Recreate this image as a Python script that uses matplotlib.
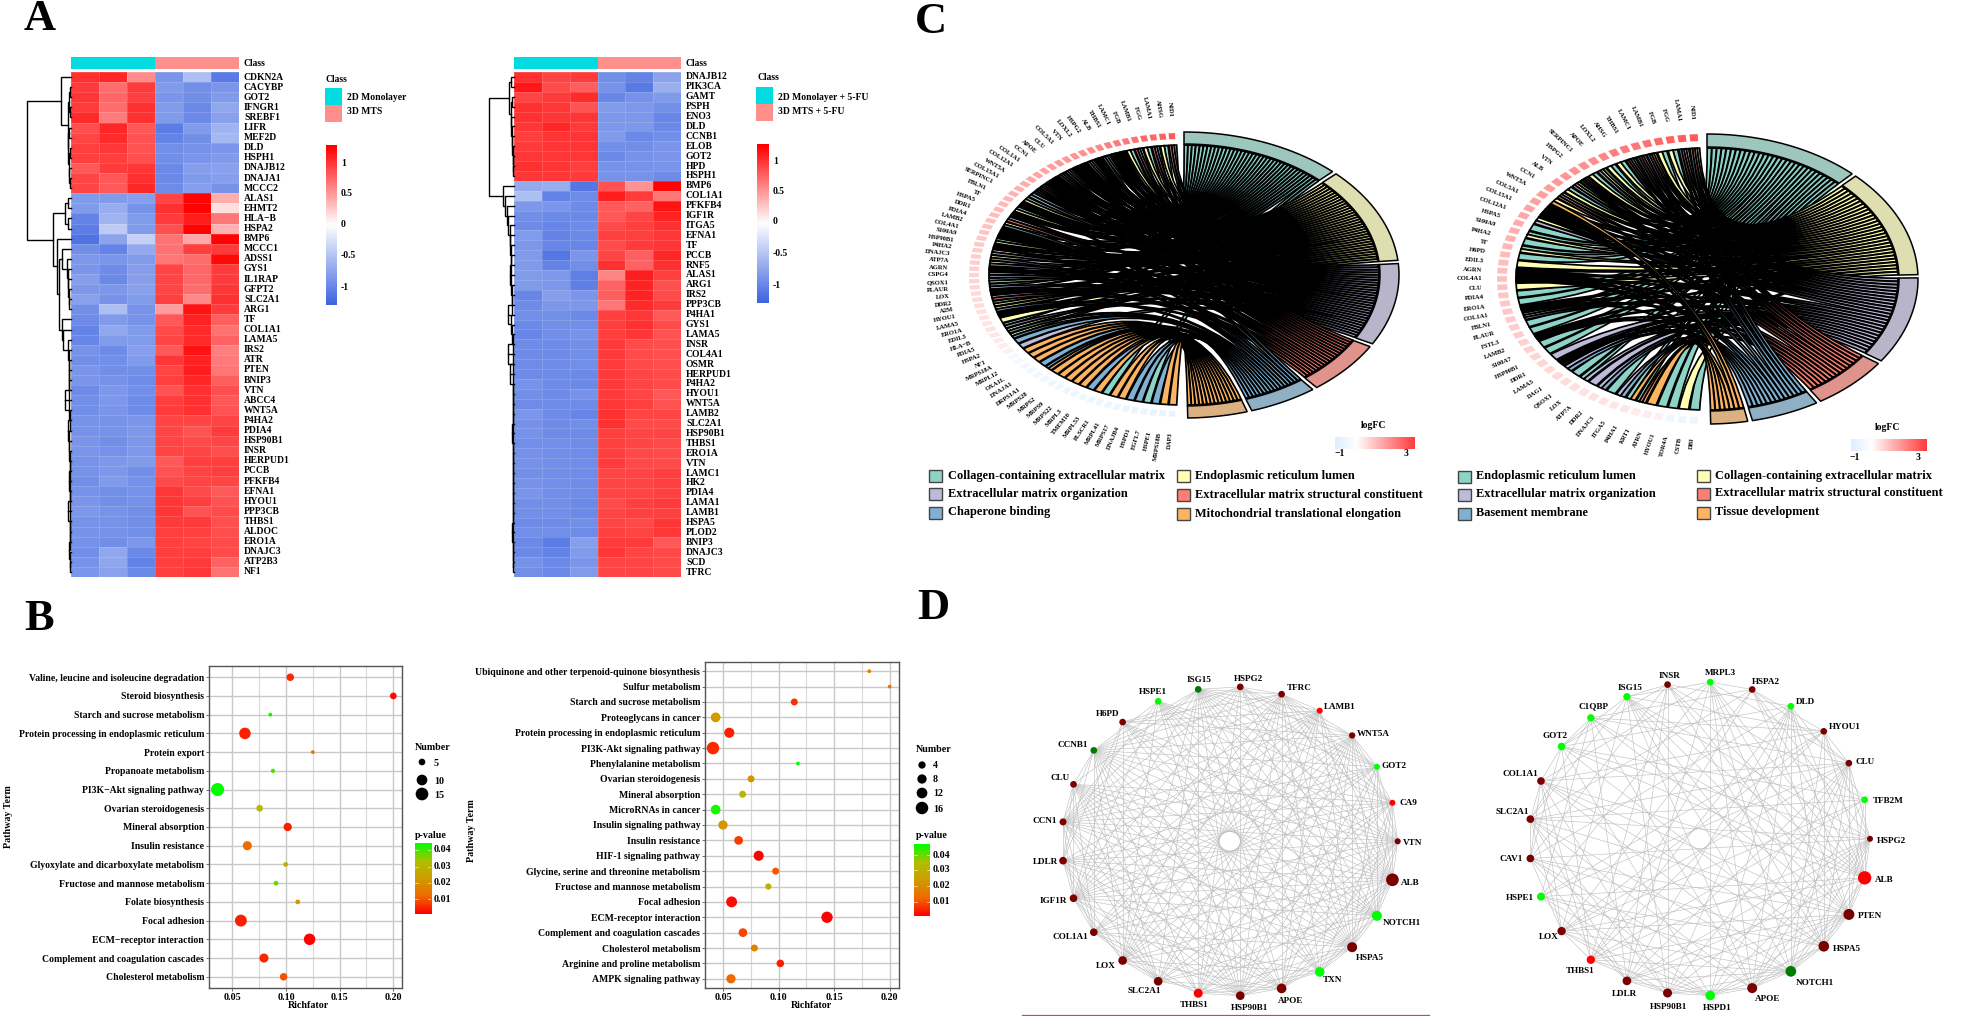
import numpy as np
import matplotlib
matplotlib.use('Agg')
import matplotlib.pyplot as plt
from matplotlib.colors import LinearSegmentedColormap
from matplotlib.collections import LineCollection
from matplotlib.patches import PathPatch, Polygon, Rectangle
from matplotlib.path import Path

plt.rcParams['font.family'] = ['Liberation Serif', 'DejaVu Serif']
plt.rcParams['font.weight'] = 'bold'

W, H = 1961, 1016

# ---------- heatmaps (panel A)
genes_a1 = ['CDKN2A', 'CACYBP', 'GOT2', 'IFNGR1', 'SREBF1', 'LIFR', 'MEF2D', 'DLD', 'HSPH1', 'DNAJB12',
            'DNAJA1', 'MCCC2', 'ALAS1', 'EHMT2', 'HLA\u2212B', 'HSPA2', 'BMP6', 'MCCC1', 'ADSS1', 'GYS1',
            'IL1RAP', 'GFPT2', 'SLC2A1', 'ARG1', 'TF', 'COL1A1', 'LAMA5', 'IRS2', 'ATR', 'PTEN',
            'BNIP3', 'VTN', 'ABCC4', 'WNT5A', 'P4HA2', 'PDIA4', 'HSP90B1', 'INSR', 'HERPUD1', 'PCCB',
            'PFKFB4', 'EFNA1', 'HYOU1', 'PPP3CB', 'THBS1', 'ALDOC', 'ERO1A', 'DNAJC3', 'ATP2B3', 'NF1']
vals_a1 = [
    [1.05, 1.1, .58, -.9, -.55, -1.12], [1.0, .75, 1.0, -.85, -.95, -.9], [1.02, .78, .98, -.9, -.95, -.85],
    [1.0, .75, 1.05, -.85, -1.0, -.75], [1.08, .68, 1.05, -.85, -1.0, -.8], [.9, 1.1, .85, -1.1, -.85, -.65],
    [.95, 1.08, .88, -1.05, -.95, -.6], [.98, 1.02, .88, -.95, -.92, -.9], [.98, .98, .9, -.95, -.9, -.85],
    [.85, 1.0, 1.02, -1.0, -.82, -.8], [.95, .85, 1.05, -1.0, -.85, -.82], [.95, .85, 1.1, -.98, -.82, -.92],
    [-.85, -.85, -.82, .95, 1.28, .42], [-.85, -.7, -.92, 1.05, 1.28, .17], [-1.05, -.65, -.85, 1.0, 1.15, .7],
    [-1.1, -.45, -.85, .9, 1.28, .4], [-1.18, -.78, -.4, .72, .45, 1.28], [-.95, -1.05, -.72, .72, .98, 1.0],
    [-.88, -.9, -.85, .7, .75, 1.25], [-.9, -.98, -.82, .95, .78, 1.0], [-.82, -1.0, -.82, .95, .78, 1.0],
    [-.88, -.88, -.8, .95, .75, 1.02], [-.8, -.92, -.85, .98, .6, 1.05], [-.95, -.55, -.92, .5, 1.2, 1.0],
    [-.98, -.85, -.92, .85, 1.12, .82], [-1.05, -.75, -.85, .92, 1.08, .72], [-1.02, -.85, -.85, .95, 1.08, .8],
    [-.92, -.98, -.82, .85, 1.2, .65], [-.95, -.95, -.85, 1.02, 1.12, .68], [-.9, -.95, -.95, .95, 1.15, .7],
    [-.9, -.92, -.98, .98, 1.1, .82], [-.98, -.88, -.95, .88, 1.05, .9], [-.95, -.88, -.98, .98, 1.05, .85],
    [-.95, -.9, -.98, 1.0, 1.05, .88], [-.92, -.92, -.9, .95, .95, .95], [-.92, -.92, -.88, .95, .88, 1.0],
    [-.9, -.95, -.88, .95, .92, .95], [-.9, -.93, -.88, .95, .95, .9], [-.92, -.88, -.85, .85, .98, .98],
    [-.92, -.88, -.95, .88, .95, .98], [-.95, -.85, -.93, .92, .95, .95], [-.92, -.95, -.93, 1.02, .92, .85],
    [-.9, -.95, -.93, 1.02, .98, .88], [-.88, -.92, -.95, 1.02, .88, .92], [-.92, -.92, -.95, 1.0, 1.0, .9],
    [-.92, -.92, -.95, .98, .98, .9], [-.93, -.95, -.88, .98, .95, .92], [-.95, -.75, -1.0, .98, .98, .92],
    [-.92, -.75, -1.05, .98, 1.0, .8], [-.9, -.8, -1.0, .98, 1.02, .72]]

genes_a2 = ['DNAJB12', 'PIK3CA', 'GAMT', 'PSPH', 'ENO3', 'DLD', 'CCNB1', 'ELOB', 'GOT2', 'HPD', 'HSPH1',
            'BMP6', 'COL1A1', 'PFKFB4', 'IGF1R', 'ITGA5', 'EFNA1', 'TF', 'PCCB', 'RNF5', 'ALAS1', 'ARG1',
            'IRS2', 'PPP3CB', 'P4HA1', 'GYS1', 'LAMA5', 'INSR', 'COL4A1', 'OSMR', 'HERPUD1', 'P4HA2',
            'HYOU1', 'WNT5A', 'LAMB2', 'SLC2A1', 'HSP90B1', 'THBS1', 'ERO1A', 'VTN', 'LAMC1', 'HK2',
            'PDIA4', 'LAMA1', 'LAMB1', 'HSPA5', 'PLOD2', 'BNIP3', 'DNAJC3', 'SCD', 'TFRC']
vals_a2 = [
    [1.05, .95, 1.0, -.95, -1.05, -.78], [1.18, .92, .82, -.92, -1.12, -.68], [.95, 1.0, 1.08, -1.02, -.92, -.85],
    [1.05, 1.02, .88, -.85, -.88, -.95], [1.05, 1.02, 1.03, -.88, -.88, -1.02], [1.02, 1.1, 1.0, -.88, -.88, -1.0],
    [.98, 1.03, 1.03, -.85, -1.0, -.95], [1.0, 1.03, 1.03, -.95, -.95, -.9], [1.02, 1.02, 1.02, -1.0, -.92, -.9],
    [1.05, 1.03, .98, -.92, -.92, -.9], [1.02, 1.02, 1.0, -.92, -.92, -.98], [-.72, -.7, -1.15, .88, .55, 1.28],
    [-.55, -1.05, -.98, 1.15, 1.0, .7], [-.88, -.9, -.98, .85, .8, 1.2], [-.95, -1.0, -1.0, .85, .95, 1.12],
    [-.98, -1.02, -.98, .92, .98, 1.05], [-.85, -1.05, -1.0, .98, .98, 1.02], [-.88, -1.02, -1.02, .92, 1.0, 1.03],
    [-.85, -1.15, -.9, .95, .82, 1.1], [-.85, -1.05, -.95, 1.05, .8, 1.05], [-.85, -.88, -1.08, .62, 1.15, .98],
    [-.85, -.88, -1.08, .8, 1.12, .9], [-1.02, -.82, -.9, .82, 1.12, .92], [-.98, -.88, -.88, .7, 1.08, 1.0],
    [-.95, -.95, -1.0, .98, 1.02, .85], [-1.0, -.95, -.95, .98, 1.05, .92], [-1.02, -.95, -.92, .98, 1.02, .88],
    [-.98, -.98, -.95, 1.0, .92, .9], [-.98, -.98, -.95, 1.0, .92, .9], [-.98, -.98, -.95, 1.0, .92, .9],
    [-.98, -.98, -1.0, 1.0, .95, .92], [-.92, -.98, -1.0, 1.0, .95, .92], [-.95, -.98, -.92, 1.0, .95, .85],
    [-.98, -.98, -.98, 1.02, .98, .88], [-.9, -.98, -1.03, 1.05, .95, .95], [-.93, -.98, -.95, 1.05, .92, .92],
    [-.92, -.98, -.98, .98, .95, .95], [-.96, -.96, -.98, .98, .95, .92], [-.93, -.96, -.97, .98, .93, .92],
    [-.93, -.96, -.97, 1.0, .93, .92], [-.95, -.95, -.97, .95, .95, .98], [-.92, -.96, -.97, .95, .95, .98],
    [-.9, -.96, -.97, .95, .95, .97], [-.96, -.96, -1.0, .92, .97, 1.0], [-.96, -.96, -1.0, .95, .97, .97],
    [-.98, -.98, -.95, .95, .93, 1.02], [-.96, -.96, -.98, .97, .95, 1.02], [-1.0, -1.1, -.82, 1.0, 1.0, .85],
    [-1.0, -1.05, -.85, 1.02, .95, .93], [-.92, -1.0, -.9, .95, .95, .92], [-.95, -1.0, -.85, .95, .95, .92]]

scale_ticks = [1, 0.5, 0, -0.5, -1]

# ---------- bubble plots (panel B)
terms_b1 = ['Valine, leucine and isoleucine degradation', 'Steroid biosynthesis', 'Starch and sucrose metabolism',
            'Protein processing in endoplasmic reticulum', 'Protein export', 'Propanoate metabolism',
            'PI3K\u2212Akt signaling pathway', 'Ovarian steroidogenesis', 'Mineral absorption', 'Insulin resistance',
            'Glyoxylate and dicarboxylate metabolism', 'Fructose and mannose metabolism', 'Folate biosynthesis',
            'Focal adhesion', 'ECM\u2212receptor interaction', 'Complement and coagulation cascades',
            'Cholesterol metabolism']
rich_b1 = [.104, .20, .0854, .0618, .125, .0879, .0363, .0755, .1016, .064, .0997, .0907, .111, .058, .122, .0795, .0978]
num_b1 = [6, 5, 2, 12, 2, 2.5, 16, 5, 7, 8, 3, 3, 3, 13, 12, 8, 6]
pval_b1 = [.005, .002, .044, .004, .014, .04, .044, .032, .004, .012, .028, .038, .022, .004, .001, .005, .009]

terms_b2 = ['Ubiquinone and other terpenoid-quinone biosynthesis', 'Sulfur metabolism', 'Starch and sucrose metabolism',
            'Proteoglycans in cancer', 'Protein processing in endoplasmic reticulum', 'PI3K-Akt signaling pathway',
            'Phenylalanine metabolism', 'Ovarian steroidogenesis', 'Mineral absorption', 'MicroRNAs in cancer',
            'Insulin signaling pathway', 'Insulin resistance', 'HIF-1 signaling pathway',
            'Glycine, serine and threonine metabolism', 'Fructose and mannose metabolism', 'Focal adhesion',
            'ECM-receptor interaction', 'Complement and coagulation cascades', 'Cholesterol metabolism',
            'Arginine and proline metabolism', 'AMPK signaling pathway']
rich_b2 = [.1816, .20, .114, .0431, .0554, .0407, .1173, .075, .0674, .0431, .0497, .0638, .0819, .0972, .0906, .0575,
           .1435, .0677, .078, .1014, .0569]
num_b2 = [2, 2, 4, 9, 10, 16, 2, 4, 4, 9, 8, 7, 10, 4, 3.5, 12, 13, 7, 4, 5, 8]
pval_b2 = [.016, .014, .006, .022, .004, .005, .044, .021, .03, .043, .021, .007, .001, .01, .029, .002, .001, .008,
           .017, .004, .012]

# ---------- chord diagrams (panel C), letters a-f are the six terms of each legend
terms_c1 = ['Collagen-containing extracellular matrix', 'Endoplasmic reticulum lumen',
            'Extracellular matrix organization', 'Extracellular matrix structural constituent',
            'Chaperone binding', 'Mitochondrial translational elongation']
genes_c1 = ['NID1', 'AHSG', 'LAMA1', 'FGG', 'LAMB1', 'FGB', 'LAMC1', 'THBS1', 'ALB', 'HSPG2', 'LOXL2', 'VTN', 'COL5A1',
            'CLU', 'APOE', 'CCN1', 'COL1A1', 'COL12A1', 'WNT5A', 'COL15A1', 'SERPINC1', 'FBLN1', 'TF', 'HSPA5', 'DDR1',
            'PDIA4', 'LAMB2', 'COL4A1', 'S100A9', 'HSP90B1', 'P4HA2', 'DNAJC3', 'ATP7A', 'AGRN', 'CSPG4', 'QSOX1',
            'PLAUR', 'LOX', 'DDR2', 'A2M', 'HYOU1', 'LAMA5', 'ERO1A', 'EDIL3', 'HLA\u2212B', 'PDIA5', 'HSPA2', 'NF1',
            'MRPS18A', 'MRPL12', 'OXA1L', 'DNAJA1', 'DRPS1A1', 'MRPS28', 'MRPS2', 'MRPS9', 'MRPS22', 'MRPL3', 'TMEM10',
            'MRPL53', 'PLSCR1', 'MRPL41', 'MRPS17', 'DNAJB4', 'HSPD1', 'EGFL7', 'HSPE1', 'MRPS18B', 'DAP3']
member_c1 = ['acd', 'ab', 'acd', 'ab', 'acd', 'ab', 'abcd', 'abcd', 'abe', 'abcd', 'abc', 'abcd', 'abcd', 'abe', 'abc',
             'abcd', 'abcd', 'acd', 'abc', 'ac', 'ab', 'abcd', 'ab', 'abe', 'cd', 'be', 'acd', 'abcd', 'ab', 'abe', 'bc',
             'be', 'bc', 'acd', 'ac', 'ab', 'ac', 'abcd', 'cd', 'ab', 'be', 'abcd', 'b', 'ac', 'be', 'be', 'e', 'c',
             'f', 'f', 'f', 'e', 'ef', 'f', 'f', 'f', 'f', 'f', 'e', 'f', 'a', 'f', 'f', 'e', 'e', 'a', 'e', 'f', 'f']
logfc_c1 = [3.0, 2.9, 2.75, 2.7, 2.6, 2.45, 2.4, 2.3, 2.2, 2.1, 2.0, 1.95, 1.9, 1.85, 1.8, 1.7, 1.65, 1.6, 1.5, 1.45,
            1.4, 1.35, 1.3, 1.25, 1.2, 1.15, 1.1, 1.05, 1.0, 1.0, .95, .9, .9, .85, .8, .8, .75, .7, .7, .65,
            .6, .55, .5, .5, .45, .4, .35, .3, -.4, -.45, -.5, -.55, -.55, -.6, -.6, -.6, -.65, -.65, -.65, -.7,
            -.7, -.7, -.7, -.75, -.75, -.75, -.8, -.8, -.85]

terms_c2 = ['Endoplasmic reticulum lumen', 'Collagen-containing extracellular matrix',
            'Extracellular matrix organization', 'Extracellular matrix structural constituent',
            'Basement membrane', 'Tissue development']
genes_c2 = ['NID1', 'LAMA1', 'FGG', 'FGB', 'LAMB1', 'LAMC1', 'THBS1', 'AHSG', 'LOXL2', 'APOE', 'SERPINC1', 'HSPG2', 'VTN',
            'ALB', 'CCN1', 'WNT5A', 'COL5A1', 'COL15A1', 'COL12A1', 'HSPA5', 'S100A9', 'P4HA2', 'TF', 'H6PD', 'EDIL3',
            'AGRN', 'COL4A1', 'CLU', 'PDIA4', 'ERO1A', 'COL1A1', 'FBLN1', 'PLAUR', 'FSTL3', 'LAMB2', 'S100A7', 'HSP90B1',
            'DDR1', 'LAMA5', 'DAG1', 'QSOX1', 'LOX', 'ATP7A', 'DDR2', 'DNAJC3', 'ITGA5', 'P4HA1', 'KRT1', 'ATRN',
            'HYOU1', 'TOR4A', 'CSTB', 'DBI']
member_c2 = ['bcde', 'bcde', 'ab', 'ab', 'bcde', 'bcde', 'abcd', 'ab', 'ab', 'abc', 'ab', 'bcde', 'abc', 'ab', 'bcd',
             'bf', 'abcdf', 'bcde', 'bc', 'a', 'ab', 'a', 'ab', 'a', 'b', 'bcde', 'bcdef', 'b', 'a', 'a', 'bcdf', 'abc',
             'a', 'a', 'bcde', 'a', 'a', 'c', 'bcde', 'ce', 'a', 'ac', 'c', 'ce', 'a', 'ce', 'af', 'adf', 'f', 'a', 'a',
             'b', 'a']
logfc_c2 = [3.0, 2.9, 2.8, 2.7, 2.55, 2.45, 2.4, 2.3, 2.2, 2.1, 2.0, 1.95, 1.9, 1.85, 1.8, 1.75, 1.7, 1.65, 1.6, 1.5,
            1.45, 1.4, 1.3, 1.25, 1.2, 1.15, 1.15, 1.1, 1.05, 1.0, 1.0, .95, .9, .9, .85, .85, .8, .75, .7, .7,
            .65, .6, .55, .55, .5, .45, .45, .4, .35, .3, -.55, -.6, -.65]

# ---------- networks (panel D), start at 3 o'clock and run counter clockwise
nodes_d1 = ['VTN', 'CA9', 'GOT2', 'WNT5A', 'LAMB1', 'TFRC', 'HSPG2', 'ISG15', 'HSPE1', 'H6PD', 'CCNB1', 'CLU', 'CCN1',
            'LDLR', 'IGF1R', 'COL1A1', 'LOX', 'SLC2A1', 'THBS1', 'HSP90B1', 'APOE', 'TXN', 'HSPA5', 'NOTCH1', 'ALB']
status_d1 = ['d', 'r', 'g', 'd', 'r', 'd', 'd', 'G', 'g', 'd', 'G', 'd', 'd', 'd', 'd', 'd', 'd', 'd', 'r', 'd', 'd',
             'g', 'd', 'g', 'd']
degree_d1 = [18, 18, 18, 19, 18, 20, 20, 20, 20, 20, 20, 20, 21, 23, 23, 23, 26, 26, 27, 26, 29, 29, 30, 30, 38]
links_d1 = [[1, 2, 3, 5, 7, 8, 9, 10, 11, 12], [2, 4, 5, 6, 7, 9, 10, 11, 12], [1, 3, 4, 5, 6, 8, 10, 11, 12],
            [2, 3, 4, 6, 7, 9, 11, 12], [1, 3, 5, 6, 8, 9, 10, 11, 12], [1, 2, 4, 5, 7, 9, 10, 11, 12],
            [1, 3, 4, 6, 8, 10, 12], [3, 4, 5, 7, 9, 10, 11, 12], [2, 4, 6, 8, 11, 12], [4, 5, 7, 10, 12],
            [1, 2, 3, 5, 6, 7, 8, 9, 10, 11, 12], [1, 2, 3, 4, 6, 7, 8, 9, 10, 11, 12], [1, 2, 3, 5, 6, 7, 8, 10, 11, 12],
            [1, 2, 3, 4, 6, 7, 9, 10, 11, 12], [1, 2, 3, 5, 6, 8, 9, 10, 11, 12], [2, 3, 4, 6, 7, 9, 10, 12],
            [1, 2, 4, 5, 7, 8, 10, 11, 12], [2, 3, 5, 6, 8, 9, 11, 12], [1, 2, 3, 4, 6, 7, 8, 10, 11, 12],
            [1, 2, 3, 5, 6, 8, 9, 10, 11, 12], [2, 3, 4, 5, 7, 8, 9, 10, 12], [1, 2, 3, 5, 7, 9, 11, 12],
            [1, 2, 3, 4, 5, 6, 7, 8, 9, 10, 11, 12], [1, 2, 3, 4, 5, 6, 8, 9, 10, 11, 12],
            [1, 2, 3, 4, 5, 6, 7, 8, 9, 10, 11, 12]]

nodes_d2 = ['HSPG2', 'TFB2M', 'CLU', 'HYOU1', 'DLD', 'HSPA2', 'MRPL3', 'INSR', 'ISG15', 'C1QBP', 'GOT2', 'COL1A1',
            'SLC2A1', 'CAV1', 'HSPE1', 'LOX', 'THBS1', 'LDLR', 'HSP90B1', 'HSPD1', 'APOE', 'NOTCH1', 'HSPA5', 'PTEN', 'ALB']
status_d2 = ['d', 'g', 'd', 'd', 'g', 'd', 'g', 'd', 'g', 'g', 'g', 'd', 'd', 'd', 'g', 'd', 'r', 'd', 'd', 'g', 'd',
             'G', 'd', 'd', 'r']
degree_d2 = [18, 20, 20, 20, 20, 20, 20, 20, 22, 22, 23, 23, 23, 23, 24, 25, 25, 26, 27, 29, 30, 32, 32, 33, 40]
links_d2 = [[2, 3, 5, 8, 10, 12], [3, 6, 9, 11], [1, 3, 4, 7, 9, 10, 12], [2, 5, 6, 8, 11, 12], [3, 6, 9, 12],
            [1, 4, 7, 10, 11], [2, 5, 8, 11], [1, 3, 6, 9, 10, 11], [2, 4, 7, 10, 12], [1, 3, 5, 8, 11],
            [1, 3, 6, 9, 12], [1, 2, 4, 5, 7, 10, 11, 12], [1, 3, 5, 6, 8, 9, 11], [2, 4, 6, 7, 9, 10, 12],
            [3, 5, 7, 8, 10], [1, 3, 4, 6, 8, 9, 11, 12], [2, 3, 5, 7, 9, 10, 12], [1, 2, 4, 6, 7, 8, 10, 12],
            [1, 2, 3, 5, 7, 9, 11], [1, 2, 3, 4, 6, 8, 10, 12], [1, 2, 3, 5, 6, 7, 9, 11], [1, 2, 3, 4, 6, 7, 8, 10, 12],
            [1, 2, 3, 5, 6, 7, 9, 10, 11], [1, 2, 3, 4, 6, 7, 8, 9, 10, 11], [1, 2, 3, 4, 5, 6, 7, 8, 9, 10, 11, 12]]

# label offsets from the node, measured on a 3x crop
offs_d1 = [(46, 6), (49, 0), (50, -3), (64, -3), (60, -11), (52, -20), (25, -25), (2, -27), (-16, -28), (-46, -25),
           (-62, -17), (-41, -18), (-56, -3), (-52, 3), (-61, 9), (-69, 14), (-50, 16), (-41, 28), (-13, 34), (28, 37),
           (26, 38), (38, 23), (53, 33), (75, 23), (53, 9)]
offs_d2 = [(64, 6), (70, 4), (48, -4), (63, -13), (44, -14), (42, -22), (31, -26), (5, -26), (9, -25), (9, -35),
           (-20, -32), (-62, -20), (-54, -20), (-57, 1), (-64, 4), (-39, 17), (-31, 34), (-8, 40), (3, 43), (22, 37),
           (47, 34), (71, 35), (70, 7), (62, 5), (59, 7)]

fig = plt.figure(figsize=(W / 100, H / 100), dpi=100)


def px_axes(x0, y0, x1, y1, **kw):
    return fig.add_axes([x0 / W, 1 - y1 / H, (x1 - x0) / W, (y1 - y0) / H], **kw)


canvas = px_axes(0, 0, W, H, zorder=5)
canvas.set_xlim(0, W)
canvas.set_ylim(H, 0)
canvas.axis('off')
canvas.patch.set_alpha(0)


def txt(x, y, s, size=6.95, ha='left', va='center', rot=0, **kw):
    canvas.text(x, y, s, fontsize=size, ha=ha, va=va, rotation=rot, color='black', rotation_mode='anchor', **kw)


for letter, lx, ly in [('A', 24, 30), ('B', 24, 630), ('C', 915, 33), ('D', 917, 619)]:
    txt(lx, ly, letter, size=32, va='baseline')

# ---------- panel A
heat_cmap = LinearSegmentedColormap.from_list('heat', ['#3F66E0', '#FFFFFF', '#FF0000'])
CYAN, SALMON = '#00DCE0', '#FF8F8A'


def comb(rows, heights):
    # right nested merge of rows, heights from the outermost node inward
    if len(rows) == 1:
        return rows[0]
    return (heights[0], rows[0], comb(rows[1:], heights[1:]))


def draw_tree(node, xr, y0, dy):
    # node is a leaf row or (height, left, right)
    if isinstance(node, int):
        return xr, y0 + (node + 0.5) * dy
    h, left, right = node
    x1, y1 = draw_tree(left, xr, y0, dy)
    x2, y2 = draw_tree(right, xr, y0, dy)
    x = xr - h
    canvas.plot([x1, x, x, x2], [y1, y1, y2, y2], color='black', lw=1.0, solid_joinstyle='miter')
    return x, (y1 + y2) / 2


tree_a1 = (44,
           (10.5, 0, (3.5, (2.5, (1.5, 1, 2), (1.5, 3, 4)),
                      (2.8, (1.8, 5, 6), (2.2, (1.2, 7, 8), (1.8, 9, (1.2, 10, 11)))))),
           (18, (6.5, (3.5, 12, 13), (3.5, 14, 15)),
            (14, 16, (12.5, comb([17, 18, 19, 20, 21, 22, 23], [9, 4.5, 3.5, 3, 2.5, 2]),
                      comb(list(range(24, 50)), [9, 8, 3, 2.5, 2, 2, 1.8, 6.5, 2.2, 1.5, 3.5, 2.5, 2, 1.5, 1.2, 2.2,
                                                 1.5, 1.5, 2.8, 1.2, 1, 1, 2, 1.2, 1])))))
tree_a2 = (25,
           (5.5, (3.5, 0, 1), (3.5, (2.2, 2, 3), comb([4, 5, 6, 7, 8, 9, 10], [3, 2.5, 2, 1.5, 1.2, 1]))),
           (11, 11, (9.5, 12, (7.5, 13, comb(list(range(14, 51)),
                                             [6, 4.5, 4, 3.5, 3, 4.5, 3.5, 2.5, 2, 6.5, 3, 2, 1.5, 6, 1.5, 4.5, 1.5, 1, 1,
                                              1, 1, 2, 1.2, 1, 1, 1, 1.5, 1, 1, 1.2, 1, 2.5, 1.5, 1, 1, 1])))))


def heatmap(x0, x1, y0, y1, values, genes, tree, top_y):
    ax = px_axes(x0, y0, x1, y1)
    ax.pcolormesh(np.array(values), cmap=heat_cmap, vmin=-1.3, vmax=1.3, edgecolors=(1, 1, 1, .15), linewidth=0.4)
    ax.set_xlim(0, 6)
    ax.set_ylim(len(genes), 0)
    ax.axis('off')
    dy = (y1 - y0) / len(genes)
    for i, g in enumerate(genes):
        txt(x1 + 5, y0 + (i + 0.5) * dy, g)
    draw_tree(tree, x0, y0, dy)
    mid = (x0 + x1) / 2
    canvas.add_patch(Rectangle((x0, top_y[0]), mid - x0, top_y[1] - top_y[0], color=CYAN, lw=0))
    canvas.add_patch(Rectangle((mid, top_y[0]), x1 - mid, top_y[1] - top_y[0], color=SALMON, lw=0))
    txt(x1 + 5, (top_y[0] + top_y[1]) / 2 + 1, 'Class')


def heat_scale(x0, x1, y0, y1, tick_y):
    ax = px_axes(x0, y0, x1, y1)
    ax.imshow(np.linspace(1.3, -1.3, 60)[:, None], cmap=heat_cmap, vmin=-1.3, vmax=1.3, aspect='auto')
    ax.axis('off')
    for v, yy in zip(scale_ticks, tick_y):
        txt(x1 + 4, yy, str(v))


heatmap(71, 239, 72, 577, vals_a1, genes_a1, tree_a1, (57, 69))
heatmap(514, 681, 72, 577, vals_a2, genes_a2, tree_a2, (57, 69))
heat_scale(326, 337, 145, 305, [163, 193, 224.5, 255, 288])
heat_scale(757, 769, 144, 303, [161, 192, 222, 253, 286])

for lx, ly, names in [(325, 79, ['2D Monolayer', '3D MTS']), (756, 78, ['2D Monolayer + 5-FU', '3D MTS + 5-FU'])]:
    txt(lx + 1, ly, 'Class')
    canvas.add_patch(Rectangle((lx, ly + 9), 17, 17, color=CYAN, lw=0))
    canvas.add_patch(Rectangle((lx, ly + 26), 17, 17, color=SALMON, lw=0))
    txt(lx + 22, ly + 19, names[0])
    txt(lx + 22, ly + 33, names[1])

# ---------- panel B
p_cmap = LinearSegmentedColormap.from_list('p', ['#FF0000', '#F06A00', '#D09C00', '#AEC000', '#00FF00'])
PMIN, PMAX = 0.0008, 0.0445


def bubbles(box, xr, terms, rich, num, pval, size_n, size_d, tick_size):
    ax = px_axes(*box)
    y = np.arange(len(terms))
    d = np.interp(num, size_n, size_d)
    ax.scatter(rich, y, s=(d * 0.72) ** 2, c=pval, cmap=p_cmap, vmin=PMIN, vmax=PMAX, linewidths=0, zorder=3)
    ax.set_xlim(*xr)
    ax.set_ylim(len(terms) - 0.4, -0.6)
    ax.set_yticks(y)
    ax.set_yticklabels(terms, fontsize=tick_size)
    ax.set_xticks([.05, .10, .15, .20])
    ax.set_xticklabels(['0.05', '0.10', '0.15', '0.20'], fontsize=7.2)
    ax.set_xticks([.075, .125, .175], minor=True)
    ax.grid(True, which='major', color='#C8C8C8', lw=1.0)
    ax.grid(True, which='minor', color='#D8D8D8', lw=0.8)
    ax.set_axisbelow(True)
    ax.tick_params(which='major', length=2, width=0.6, color='#555555', pad=1.5)
    ax.tick_params(which='minor', length=0)
    for s in ax.spines.values():
        s.set_color('#555555')
        s.set_linewidth(1.0)


def p_scale(x0, x1, y0, y1, tick_y):
    ax = px_axes(x0, y0, x1, y1)
    ax.imshow(np.linspace(PMAX, PMIN, 100)[:, None], cmap=p_cmap, vmin=PMIN, vmax=PMAX, aspect='auto',
              extent=[0, 1, y1, y0])
    for yy in tick_y:
        ax.plot([0, .2], [yy, yy], color='white', lw=0.5, alpha=.8)
        ax.plot([.8, 1], [yy, yy], color='white', lw=0.5, alpha=.8)
    ax.set_xlim(0, 1)
    ax.set_ylim(y1, y0)
    ax.axis('off')
    for v, yy in zip(['0.04', '0.03', '0.02', '0.01'], tick_y):
        txt(x1 + 3, yy, v, size=7.2)


bubbles((209, 666, 402, 988), (.0283, .2081), terms_b1, rich_b1, num_b1, pval_b1,
        [2, 5, 10, 15, 17], [3.8, 6.7, 10.7, 12.7, 13.5], 7.0)
bubbles((705, 662, 899, 988), (.0335, .2084), terms_b2, rich_b2, num_b2, pval_b2,
        [2, 4, 8, 12, 16], [3.8, 7.0, 9.3, 10.9, 12.5], 7.0)
p_scale(415, 431, 843, 914, [850, 866.7, 882.7, 899])
p_scale(914, 930, 844, 916, [855, 870, 886, 902])

txt(9, 817, 'Pathway Term', size=7.2, ha='center', rot=90)
txt(472, 831, 'Pathway Term', size=7.2, ha='center', rot=90)
txt(308, 1005, 'Richfator', size=7.2, ha='center')
txt(811, 1006, 'Richfator', size=7.2, ha='center')
txt(415, 747, 'Number', size=7.2)
txt(916, 749, 'Number', size=7.2)
txt(415, 836, 'p-value', size=7.2)
txt(916, 836, 'p-value', size=7.2)

legend_num = [(422, 434, [5, 10, 15], [762, 780, 794], [6.7, 10.7, 12.7]),
              (922, 933, [4, 8, 12, 16], [765, 779, 793, 808], [7.3, 9.3, 10.7, 12.5])]
for x_dot, x_lab, ns, ys, ds in legend_num:
    canvas.scatter([x_dot] * len(ns), ys, s=(np.array(ds) * 0.72) ** 2, color='black', linewidths=0)
    for n, yy in zip(ns, ys):
        txt(x_lab, yy + 1, str(n), size=7.2)

# ---------- panel C
LETTERS = 'abcdef'
set3 = ['#8DD3C7', '#FFFFB3', '#BEBADA', '#FB8072', '#80B1D3', '#FDB462']
band = ['#9DC6BC', '#DEDEB0', '#B8B5CA', '#E0938B', '#8FB0C4', '#DBB182']
fc_cmap = LinearSegmentedColormap.from_list('fc', [(0, '#DCEEFF'), (.268, '#FFFFFF'), (1, '#FF3B3B')])
FC_MIN, FC_MAX = -1.3, 3.55


def ell(t, cx, cy, rx, ry):
    t = np.radians(t)
    return np.column_stack([cx + rx * np.cos(t), cy - ry * np.sin(t)])


def ring(t0, t1, c, r_in, r_out, **kw):
    # r_in and r_out are (rx, ry)
    t = np.linspace(t0, t1, 24)
    pts = np.vstack([ell(t, c[0], c[1], *r_out), ell(t[::-1], c[0], c[1], *r_in)])
    canvas.add_patch(Polygon(pts, closed=True, **kw))


def chord(c, r_outer, r_inner, r_sq, r_lab, span_terms, span_genes, genes, member, logfc, edge_lw):
    counts = [sum(m.count(l) for m in member) for l in LETTERS]
    gap = 1.3
    total = span_terms[0] - span_terms[1] - gap * 5
    starts, t = {}, span_terms[0]
    per_link = total / sum(counts)
    for l, n in zip(LETTERS, counts):
        starts[l] = t
        ring(t, t - n * per_link, c, r_inner, r_outer, facecolor=band[LETTERS.index(l)], edgecolor='black', lw=1.1)
        t -= n * per_link + gap
    # gene ends
    n_g = len(genes)
    slot = (span_genes[1] - span_genes[0]) / n_g
    used = dict.fromkeys(LETTERS, 0)
    r_rib = (r_inner[0] - 1, r_inner[1] - 1)
    ribbons = []
    for i, (g, m) in enumerate(zip(genes, member)):
        a0 = span_genes[0] + i * slot
        ring(a0 + slot * .16, a0 + slot * .84, c, r_sq[0], r_sq[1], facecolor=fc_cmap((logfc[i] - FC_MIN) / (FC_MAX - FC_MIN)),
             lw=0)
        mid = a0 + slot / 2
        lab = ell(mid, c[0], c[1], *r_lab)[0]
        vis = np.degrees(np.arctan2(r_lab[1] * np.sin(np.radians(mid)), r_lab[0] * np.cos(np.radians(mid))))
        vis = vis % 360
        txt(lab[0], lab[1], g, size=4.7, ha='right', rot=vis - 180)
        w = slot * .88 / len(m)
        for k, l in enumerate(m):
            g0 = a0 + slot * .06 + k * w
            g1 = g0 + w
            t_hi = starts[l] - used[l] * per_link - .04 * per_link
            t_lo = t_hi - per_link * .92
            used[l] += 1
            gene_arc = ell(np.linspace(g0, g1, 5), c[0], c[1], *r_rib)
            term_arc = ell(np.linspace(t_lo, t_hi, 5), c[0], c[1], *r_rib)
            verts = list(gene_arc) + [c, term_arc[0]] + list(term_arc[1:]) + [c, gene_arc[0], gene_arc[0]]
            ribbons.append((LETTERS.index(l), verts))
    codes = [Path.MOVETO] + [Path.LINETO] * 4 + [Path.CURVE3, Path.CURVE3] + [Path.LINETO] * 4 + \
            [Path.CURVE3, Path.CURVE3, Path.CLOSEPOLY]
    # first term lies at the bottom of the pile
    for idx, verts in sorted(ribbons, key=lambda r: r[0]):
        canvas.add_patch(PathPatch(Path(verts, codes), facecolor=set3[idx], edgecolor='black', lw=edge_lw))


chord((1184, 275), (215, 143), (196, 131), ((205, 136), (215, 142)), (236, 158), (90, -89), (92, 268),
      genes_c1, member_c1, logfc_c1, 1.25)
chord((1707, 279), (211, 145), (192, 132), ((200, 138), (210, 145)), (225, 159), (90, -89), (92, 268),
      genes_c2, member_c2, logfc_c2, 1.25)


def fc_scale(x0, x1, y0, y1, xm1, x3, lab_y, tick_y):
    ax = px_axes(x0, y0, x1, y1)
    ax.imshow(np.linspace(0, 1, 200)[None, :], cmap=fc_cmap, vmin=0, vmax=1, aspect='auto')
    ax.axis('off')
    txt((x0 + x1) / 2 - 1, lab_y, 'logFC', size=7, ha='center')
    txt(xm1, tick_y, '\u22121', size=7, ha='center')
    txt(x3, tick_y, '3', size=7, ha='center')


fc_scale(1335, 1415, 437, 449, 1340, 1406, 426, 454)
fc_scale(1851, 1927, 439, 451, 1855, 1918, 428, 457)


def chord_legend(terms, col1_box, col1_txt, col2_box, col2_txt, ys1, ys2):
    order = [(0, col1_box, col1_txt, ys1[0]), (1, col2_box, col2_txt, ys2[0]),
             (2, col1_box, col1_txt, ys1[1]), (3, col2_box, col2_txt, ys2[1]),
             (4, col1_box, col1_txt, ys1[2]), (5, col2_box, col2_txt, ys2[2])]
    for i, bx, tx, yy in order:
        canvas.add_patch(Rectangle((bx, yy - 6), 13, 12, facecolor=set3[i], edgecolor='#444444', lw=1.0))
        txt(tx, yy - 0.5, terms[i], size=8.95)


chord_legend(terms_c1, 929, 948, 1177, 1195, [476, 494, 513], [476, 495, 514])
chord_legend(terms_c2, 1458, 1476, 1697, 1715, [477, 495, 514], [476, 494, 513])

# ---------- panel D
node_col = {'d': '#7A0000', 'r': '#FF0000', 'g': '#00FF00', 'G': '#007A00'}


def network(cx, cy, rx, ry, names, status, sizes, links, offs):
    n = len(names)
    ang = 2 * np.pi * np.arange(n) / n
    xs = cx + rx * np.cos(ang)
    ys = cy - ry * np.sin(ang)
    segs = []
    for i, row in enumerate(links):
        for k in row:
            j = (i + k) % n
            segs.append([(xs[i], ys[i]), (xs[j], ys[j])])
    canvas.add_collection(LineCollection(segs, colors='#BEBEBE', linewidths=0.42))
    d = np.array(sizes) / 3.
    canvas.scatter(xs, ys, s=(d * 0.72) ** 2, c=[node_col[s] for s in status], linewidths=0, zorder=4)
    for i, name in enumerate(names):
        txt(xs[i] + offs[i][0] / 3., ys[i] + offs[i][1] / 3., name, size=6.6, ha='center')


network(1229.7, 841.3, 168, 154.7, nodes_d1, status_d1, degree_d1, links_d1, offs_d1)
network(1699.5, 838.8, 170.5, 157, nodes_d2, status_d2, degree_d2, links_d2, offs_d2)
canvas.plot([1022, 1429], [1015, 1015], color='#E04040', lw=0.9)

canvas.set_xlim(0, W)
canvas.set_ylim(H, 0)
fig.savefig('out.png', dpi=100)
